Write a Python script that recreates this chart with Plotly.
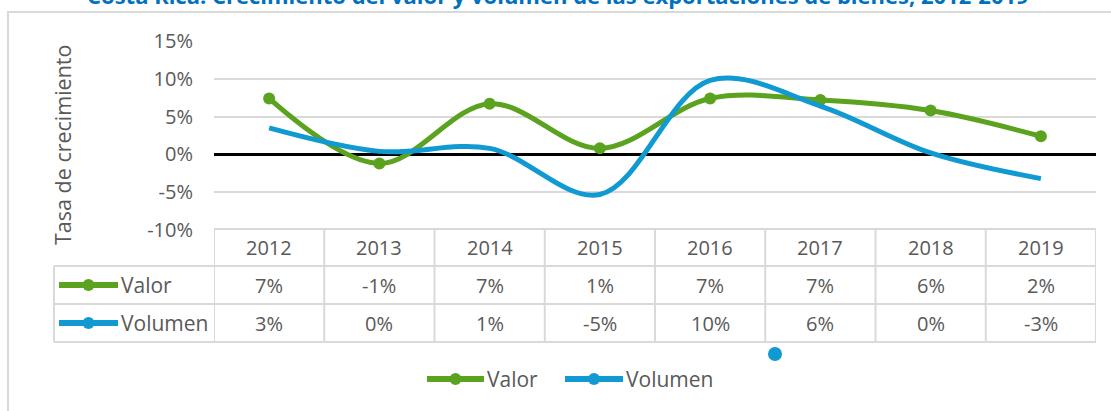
import plotly.graph_objects as go

W, H = 1111, 411

years = ["2012", "2013", "2014", "2015", "2016", "2017", "2018", "2019"]
valor = [7.4, -1.2, 6.7, 0.8, 7.4, 7.2, 5.8, 2.4]
volumen = [3.5, 0.4, 0.8, -5.3, 9.8, 6.4, 0.2, -3.2]
valor_lbl = ["7%", "-1%", "7%", "1%", "7%", "7%", "6%", "2%"]
volumen_lbl = ["3%", "0%", "1%", "-5%", "10%", "6%", "0%", "-3%"]
y_ticks = [-10, -5, 0, 5, 10, 15]
y_ticktext = ["-10%", "-5%", "0%", "5%", "10%", "15%"]

GREEN = "#5BA21F"
BLUE = "#119AD2"
GRID = "#D9D9D9"
TXT = "#595959"
FONT = "Open Sans"
FS = 20


def px(x):
    return x / W


def py(y):
    return 1 - y / H


n = len(years)
xs = list(range(n))

fig = go.Figure()
fig.add_trace(go.Scatter(x=xs, y=valor, mode="lines+markers", name="Valor",
                         line=dict(color=GREEN, width=5, shape="spline", smoothing=1),
                         marker=dict(size=12, color=GREEN), showlegend=False))
fig.add_trace(go.Scatter(x=xs, y=volumen, mode="lines", name="Volumen",
                         line=dict(color=BLUE, width=5, shape="spline", smoothing=1),
                         showlegend=False))

shapes = []
ann = []

# outer chart border
shapes.append(dict(type="rect", xref="paper", yref="paper", x0=px(8), x1=px(1125),
                   y0=py(425), y1=py(12), line=dict(color=GRID, width=2)))

# table
TOP, R1, R2, BOT = 229, 266, 304, 342
LEFT = 54
for yy in (R1, R2, BOT):
    shapes.append(dict(type="line", xref="paper", yref="paper", x0=px(LEFT), x1=px(1096),
                       y0=py(yy), y1=py(yy), line=dict(color=GRID, width=2)))
shapes.append(dict(type="line", xref="x", yref="paper", x0=-0.5, x1=n - 0.5,
                   y0=py(TOP), y1=py(TOP), line=dict(color=GRID, width=2)))
for i in range(n + 1):
    shapes.append(dict(type="line", xref="x", yref="paper", x0=i - 0.5, x1=i - 0.5,
                       y0=py(TOP), y1=py(BOT), line=dict(color=GRID, width=2)))
shapes.append(dict(type="line", xref="paper", yref="paper", x0=px(LEFT), x1=px(LEFT),
                   y0=py(R1), y1=py(BOT), line=dict(color=GRID, width=2)))


def txt(x, y, text, xref="x", xanchor="center", size=FS, **kw):
    ann.append(dict(x=x, y=y, xref=xref, yref="paper", text=text, xanchor=xanchor,
                    yanchor="middle", showarrow=False,
                    font=dict(family=FONT, size=size, color=kw.get("color", TXT)),
                    textangle=kw.get("textangle", 0)))


for i, yr in enumerate(years):
    txt(i, py((TOP + R1) / 2), yr)
    txt(i, py((R1 + R2) / 2), valor_lbl[i])
    txt(i, py((R2 + BOT) / 2), volumen_lbl[i])


def key(x0, x1, yy, color, label):
    shapes.append(dict(type="line", xref="paper", yref="paper", x0=px(x0), x1=px(x1),
                       y0=py(yy), y1=py(yy), line=dict(color=color, width=6)))
    cx = (x0 + x1) / 2
    r = 6
    shapes.append(dict(type="circle", xref="paper", yref="paper", x0=px(cx - r), x1=px(cx + r),
                       y0=py(yy + r), y1=py(yy - r), fillcolor=color, line=dict(width=0)))
    txt(px(x1 + 1), py(yy), label, xref="paper", xanchor="left", size=21)


key(59, 118, (R1 + R2) / 2, GREEN, "Valor")
key(59, 118, (R2 + BOT) / 2, BLUE, "Volumen")
key(427, 484, 379, GREEN, "Valor")
key(565, 623, 379, BLUE, "Volumen")

# stray marker
shapes.append(dict(type="circle", xref="paper", yref="paper", x0=px(768), x1=px(782),
                   y0=py(361), y1=py(347), fillcolor=BLUE, line=dict(width=0)))

# title (cut off at top)
txt(px(558), py(-5),
    "<b>Costa Rica: Crecimiento del valor y volumen de las exportaciones de bienes, 2012-2019</b>",
    xref="paper", size=22, color="#0070C0")

# y axis title
txt(px(62), py(145), "Tasa de crecimiento", xref="paper", size=21.5, textangle=-90)

fig.update_layout(
    width=W, height=H, margin=dict(l=0, r=0, t=0, b=0, autoexpand=False),
    paper_bgcolor="white", plot_bgcolor="white",
    shapes=shapes, annotations=ann,
    xaxis=dict(domain=[px(214), px(1096)], range=[-0.5, n - 0.5], showgrid=False,
               showticklabels=False, zeroline=False, showline=False, fixedrange=True),
    yaxis=dict(domain=[py(230), py(41)], range=[-10, 15], tickvals=y_ticks, ticktext=y_ticktext,
               showgrid=True, gridcolor=GRID, gridwidth=2, zeroline=True, zerolinecolor="black",
               zerolinewidth=3, showline=False, ticks="", ticklabelstandoff=20,
               tickfont=dict(family=FONT, size=FS, color=TXT), fixedrange=True),
    showlegend=False,
)

fig.write_html("out.html", config={"displayModeBar": False},
               post_script="document.body.style.margin='0';document.body.style.overflow='hidden';")
